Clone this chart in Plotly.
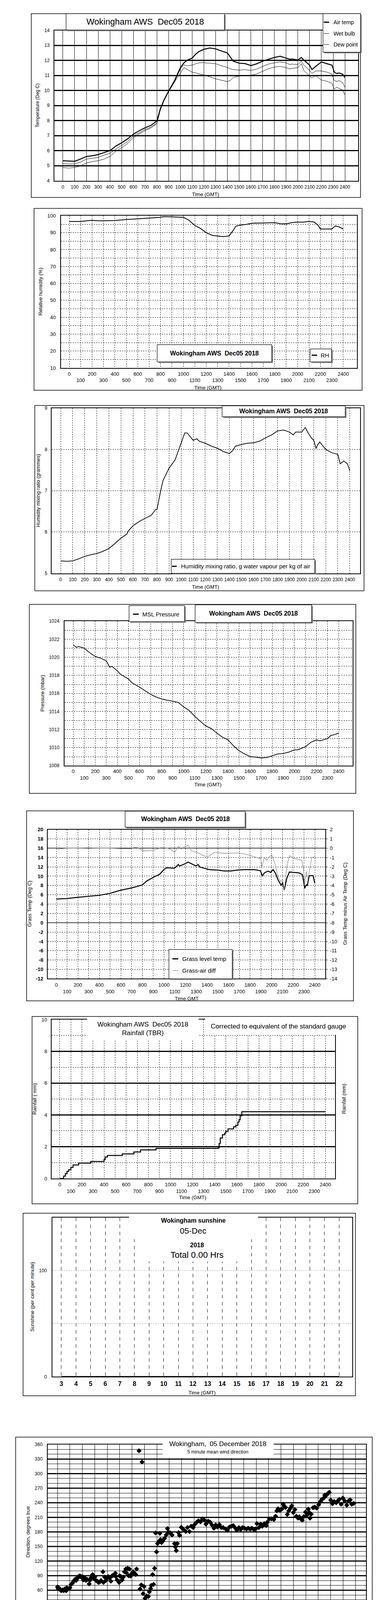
import plotly.graph_objects as go

W, H = 1000, 5000
FONT = "Liberation Sans, Arial, Helvetica, sans-serif"

# ---------------- DATA ----------------
# Panel 1: temperatures (time as HHMM-like number)
t_time = [0, 50, 100, 150, 200, 250, 300, 350, 400, 450,
          500, 550, 600, 650, 700, 750, 800, 830, 860, 900,
          950, 1000, 1030, 1060, 1100, 1130, 1160, 1200, 1230, 1250,
          1300, 1330, 1400, 1430, 1450, 1500, 1550, 1600, 1650, 1700,
          1750, 1800, 1850, 1900, 1930, 1950, 2000, 2030, 2050, 2100,
          2120, 2150, 2200, 2250, 2290, 2310, 2330, 2350, 2380, 2400]
air_temp = [5.33, 5.31, 5.29, 5.44, 5.61, 5.66, 5.74, 5.87, 6.0, 6.3,
            6.52, 6.78, 7.1, 7.33, 7.53, 7.68, 7.98, 8.8, 9.36, 9.97,
            10.66, 11.52, 11.84, 12.03, 12.16, 12.42, 12.6, 12.74, 12.79, 12.83,
            12.77, 12.68, 12.5, 12.16, 11.95, 11.82, 11.79, 11.66, 11.78, 11.95,
            12.08, 12.2, 12.28, 12.16, 12.08, 12.1, 12.03, 12.2, 12.03, 11.69,
            11.39, 11.6, 11.9, 11.78, 11.69, 11.22, 11.13, 11.17, 11.09, 10.87]
wet_bulb = [5.14, 5.11, 5.12, 5.24, 5.44, 5.5, 5.55, 5.7, 5.83, 6.1,
            6.34, 6.6, 6.97, 7.2, 7.42, 7.57, 7.85, 8.76, 9.34, 9.97,
            10.6, 11.43, 11.7, 11.65, 11.69, 11.78, 11.84, 11.86, 11.82, 11.82,
            11.78, 11.7, 11.53, 11.43, 11.39, 11.36, 11.39, 11.33, 11.43, 11.6,
            11.76, 11.84, 11.9, 11.84, 11.73, 11.76, 11.73, 11.95, 11.69, 11.34,
            11.13, 11.3, 11.3, 11.22, 11.09, 10.66, 10.61, 10.66, 10.53, 10.22]
dew_point = [4.88, 4.84, 4.88, 4.98, 5.18, 5.27, 5.33, 5.44, 5.61, 5.96,
             6.19, 6.47, 6.86, 7.12, 7.34, 7.51, 7.81, 8.72, 9.32, 9.92,
             10.57, 11.17, 11.52, 11.39, 11.22, 11.17, 11.1, 11.04, 10.96, 10.91,
             10.78, 10.72, 10.59, 10.7, 10.87, 10.96, 10.98, 11.02, 11.1, 11.28,
             11.45, 11.56, 11.6, 11.52, 11.43, 11.47, 11.52, 11.78, 11.34, 10.96,
             10.83, 11.0, 10.7, 10.61, 10.48, 10.09, 10.22, 10.14, 10.03, 9.71]

# Panel 2: relative humidity
rh_time = [0, 100, 150, 200, 250, 300, 400, 500, 600, 700,
           800, 830, 900, 1000, 1050, 1100, 1150, 1200, 1250, 1300,
           1350, 1400, 1430, 1460, 1500, 1550, 1600, 1700, 1800, 1850,
           1900, 1950, 2000, 2050, 2100, 2145, 2177, 2200, 2300, 2330,
           2360, 2400]
rh_pct = [96.6, 96.6, 97.0, 97.3, 97.0, 97.0, 97.2, 97.8, 98.2, 98.7,
          99.1, 99.5, 99.4, 99.1, 97.3, 94.2, 92.5, 90.0, 88.5, 88.0,
          87.7, 88.1, 90.8, 93.9, 94.5, 94.9, 95.6, 95.8, 95.9, 95.3,
          95.2, 96.0, 96.3, 96.2, 96.7, 96.3, 94.5, 92.2, 92.2, 94.0,
          93.5, 92.2]

# Panel 3: humidity mixing ratio
mr_time = [0, 50, 100, 150, 200, 250, 300, 350, 400, 450,
           500, 550, 560, 600, 650, 700, 750, 790, 800, 830,
           850, 900, 950, 980, 1000, 1030, 1050, 1100, 1130, 1150,
           1200, 1250, 1300, 1350, 1400, 1430, 1450, 1500, 1550, 1600,
           1650, 1700, 1750, 1800, 1850, 1900, 1930, 1950, 2000, 2030,
           2050, 2080, 2100, 2120, 2130, 2150, 2200, 2250, 2300, 2320,
           2350, 2380, 2400]
mix_ratio = [5.3, 5.29, 5.3, 5.35, 5.41, 5.45, 5.48, 5.53, 5.6, 5.72,
             5.85, 5.95, 6.02, 6.15, 6.25, 6.33, 6.4, 6.55, 6.55, 7.0,
             7.25, 7.55, 7.75, 8.0, 8.15, 8.4, 8.4, 8.22, 8.26, 8.2,
             8.15, 8.08, 8.03, 7.95, 7.9, 7.98, 8.08, 8.12, 8.15, 8.16,
             8.2, 8.28, 8.35, 8.45, 8.47, 8.42, 8.35, 8.42, 8.42, 8.53,
             8.42, 8.28, 8.22, 8.02, 8.1, 8.18, 8.0, 7.92, 7.88, 7.65,
             7.72, 7.65, 7.48]

# Panel 4: MSL pressure
p_time = [0, 30, 50, 100, 150, 200, 250, 300, 330, 350,
          400, 430, 500, 530, 600, 650, 700, 750, 800, 850,
          900, 950, 1000, 1050, 1100, 1150, 1200, 1250, 1300, 1350,
          1400, 1450, 1500, 1550, 1600, 1650, 1700, 1750, 1800, 1850,
          1900, 1950, 2000, 2030, 2100, 2150, 2200, 2230, 2300, 2330,
          2350, 2400]
msl_mbar = [1021.4, 1021.1, 1021.2, 1021.0, 1020.5, 1020.1, 1019.9, 1019.6, 1018.9, 1019.0,
            1018.5, 1018.1, 1017.6, 1017.2, 1016.7, 1016.3, 1015.9, 1015.6, 1015.4, 1015.25,
            1015.15, 1015.0, 1014.5, 1014.1, 1013.45, 1012.9, 1012.4, 1012.1, 1011.6, 1011.15,
            1010.85, 1010.2, 1009.65, 1009.3, 1009.0, 1008.95, 1008.85, 1008.9, 1009.1, 1009.3,
            1009.35, 1009.5, 1009.75, 1009.75, 1010.1, 1010.6, 1010.85, 1010.75, 1011.0, 1011.35,
            1011.4, 1011.6]

# Panel 5: grass temperature and grass-air difference
grass_time = [0, 100, 195, 299, 403, 496, 600, 704, 797, 843,
              913, 960, 994, 1024, 1060, 1098, 1133, 1144, 1170, 1190,
              1225, 1260, 1295, 1318, 1330, 1370, 1422, 1500, 1561, 1620,
              1677, 1740, 1793, 1839, 1886, 1897, 1913, 1932, 1967, 1990,
              2013, 2036, 2059, 2089, 2101, 2117, 2140, 2164, 2210, 2256,
              2286, 2307, 2321, 2330, 2349, 2384, 2400]
grass_temp = [5.1, 5.2, 5.45, 5.65, 5.9, 6.3, 7.0, 7.5, 8.1, 9.0,
              9.9, 10.4, 11.3, 11.8, 11.75, 11.7, 12.5, 12.2, 12.4, 12.6,
              13.0, 12.6, 12.2, 12.5, 12.0, 11.7, 11.4, 11.3, 11.1, 11.1,
              11.3, 11.4, 11.4, 11.4, 11.2, 11.1, 10.0, 10.7, 11.1, 10.8,
              11.4, 10.6, 9.2, 8.0, 8.6, 7.0, 9.5, 10.9, 10.8, 10.7,
              10.3, 7.4, 8.2, 7.9, 10.1, 10.1, 8.5]
diff_time = [0, 50, 100, 200, 300, 400, 500, 600, 700, 727,
             760, 808, 900, 970, 1000, 1052, 1098, 1133, 1160, 1190,
             1225, 1255, 1306, 1340, 1376, 1410, 1469, 1561, 1700, 1793,
             1886, 1897, 1909, 1932, 1955, 1978, 2001, 2025, 2059, 2082,
             2101, 2117, 2140, 2164, 2210, 2280, 2298, 2307, 2321, 2337,
             2372, 2390]
grass_air_diff = [-0.15, -0.05, 0.0, 0.0, 0.05, 0.0, 0.0, -0.05, -0.05, 0.1,
                  0.05, -0.3, -0.25, 0.05, 0.05, -0.05, -0.45, 0.2, -0.1, 0.15,
                  0.3, -0.3, -0.45, -0.65, -0.85, -0.9, -0.45, -0.55, -0.5, -0.75,
                  -1.1, -1.0, -2.0, -1.0, -1.3, -0.9, -0.75, -1.5, -3.0, -3.6,
                  -3.3, -4.5, -2.0, -0.8, -1.1, -1.3, -2.5, -3.8, -2.5, -3.4,
                  -1.0, -0.95]

# Panel 6: cumulative rainfall
rain_time = [0, 25, 35, 50, 65, 80, 100, 120, 170, 280,
             400, 410, 430, 565, 670, 730, 870, 1430, 1440, 1450,
             1470, 1490, 1500, 1520, 1570, 1590, 1610, 1620, 1630, 1645,
             2400]
rain_mm = [0, 0, 0.15, 0.3, 0.45, 0.55, 0.7, 0.85, 0.97, 1.07,
           1.2, 1.35, 1.45, 1.55, 1.67, 1.8, 1.9, 1.92, 2.2, 2.55,
           2.75, 2.85, 2.97, 3.12, 3.25, 3.35, 3.55, 3.7, 3.95, 4.2,
           4.2]

# Panel 7: sunshine
sun_hour = [3, 4, 5, 6, 7, 8, 9, 10, 11, 12, 13, 14, 15, 16, 17, 18, 19, 20, 21, 22]
sun_pct = [0, 0, 0, 0, 0, 0, 0, 0, 0, 0, 0, 0, 0, 0, 0, 0, 0, 0, 0, 0]

# Panel 8: wind direction (5 minute means)
dir_hour = [0.0, 0.05, 0.1, 0.2, 0.3, 0.4, 0.5, 0.6, 0.7, 0.75,
            0.85, 1.0, 1.1, 1.2, 1.3, 1.4, 1.45, 1.5, 1.6, 1.7,
            1.8, 1.9, 2.0, 2.1, 2.2, 2.3, 2.4, 2.55, 2.6, 2.7,
            2.83, 2.9, 3.0, 3.1, 3.2, 3.3, 3.4, 3.5, 3.66, 3.7,
            3.8, 3.9, 4.0, 4.1, 4.2, 4.3, 4.4, 4.5, 4.66, 4.7,
            4.8, 4.96, 5.0, 5.1, 5.2, 5.3, 5.4, 5.5, 5.55, 5.65,
            5.73, 5.8, 5.89, 5.95, 6.0, 6.1, 6.2, 6.3, 6.37, 6.5,
            6.57, 6.65, 6.75, 6.81, 6.9, 6.97, 7.05, 7.18, 7.32, 7.4,
            7.5, 7.56, 7.66, 7.74, 7.82, 7.9, 7.98, 8.06, 8.16, 8.24,
            8.3, 8.38, 8.48, 8.62, 8.76, 8.86, 8.94, 9.1, 9.23, 9.43,
            9.49, 9.57, 9.65, 9.75, 9.83, 9.97, 10.13, 10.33, 10.47, 10.63,
            10.77, 10.93, 11.04, 11.24, 11.36, 11.52, 11.68, 11.84, 11.96, 12.14,
            12.3, 12.44, 12.6, 12.74, 12.88, 13.04, 13.2, 13.35, 13.55, 13.69,
            13.85, 14.0, 14.15, 14.29, 14.45, 14.61, 14.75, 14.9, 15.06, 15.22,
            15.36, 15.52, 15.66, 15.82, 15.96, 16.06, 16.22, 16.36, 16.5, 16.66,
            16.82, 16.9, 17.07, 17.23, 17.43, 17.57, 17.67, 17.77, 17.91, 18.07,
            18.17, 18.27, 18.37, 18.51, 18.63, 18.77, 18.87, 19.0, 19.12, 19.24,
            19.38, 19.48, 19.6, 19.72, 19.84, 19.98, 20.12, 20.2, 20.28, 20.34,
            20.44, 20.58, 20.72, 20.88, 21.04, 21.19, 21.29, 21.45, 21.53, 21.65,
            21.77, 21.89, 22.01, 22.15, 22.29, 22.45, 22.59, 22.69, 22.85, 22.99,
            23.14, 23.3, 23.45, 23.58, 23.7, 23.86]
dir_deg = [66.8, 63, 65, 61.5, 59, 60.7, 59, 63, 59, 65,
           63, 65, 72, 74.5, 78.6, 81, 83, 80, 84, 88,
           89.7, 87, 88, 81, 85.5, 80, 82, 73, 80, 85.5,
           92.4, 84, 87, 80, 78.6, 76, 77, 80, 98, 76,
           87, 80, 84, 88, 85, 78.6, 89.7, 91, 95, 88,
           81, 76, 89.7, 88, 81, 87, 98, 103.5, 96, 105,
           89.7, 103.5, 89, 92.4, 95, 98, 95, 92.4, 103.5, 26,
           347, 62.6, 71, 324, 53, 67.6, 43.3, 48, 47, 56.6,
           63.5, 70, 92.4, 72, 105, 178, 139, 156, 160, 177,
           164, 158, 161, 167, 174, 187, 180, 178, 173.5, 156,
           149, 141.5, 156, 178.5, 173, 189.5, 185.7, 180.7, 189, 180.7,
           191.7, 189, 195, 200.6, 203, 200.6, 207, 204, 196, 202,
           200, 194.5, 187.6, 194.5, 190, 195, 189, 189, 186, 183.5,
           190, 191.7, 193, 189, 183.5, 189, 185, 189, 187.6, 186,
           187.6, 186, 187.6, 185, 186, 197, 189, 196, 191.7, 197,
           193, 200, 207, 207, 205.5, 212.4, 223.5, 227.6, 224.3, 227,
           237, 233, 230.4, 216, 223.5, 229, 233.7, 220, 226, 212.4,
           208.3, 211, 207, 204, 211.6, 220.7, 215, 227, 220, 208.3,
           216.6, 229.8, 231, 229, 236, 242.8, 247, 249.7, 255.8, 255.2,
           259, 261.6, 245.6, 238, 242.8, 240, 244, 247, 237, 249.7,
           244, 235, 244, 246, 237, 238.6]

# Panel 9: wind speed
mean_kt = [4.5, 4.0, 4.2, 4.0, 3.9, 4.0, 5.0, 5.8, 5.5, 5.0,
           5.0, 5.3, 5.3, 5.5, 5.5, 7.0, 6.0, 5.3, 4.2, 5.2,
           5.5, 5.0, 5.0, 4.5, 4.5, 4.5, 4.0, 4.4, 3.8, 3.8,
           3.5, 4.0, 3.3, 1.5, 1.2, 1.0, 1.5, 1.2, 1.3, 1.5,
           1.5, 2.8, 3.8, 4.2, 4.5, 4.0, 4.5, 5.0, 4.5, 4.2,
           4.5, 5.0, 5.5, 6.0, 7.0, 7.3, 7.5, 7.0, 8.0, 7.5,
           8.0, 7.2, 7.5, 5.8, 7.0, 7.5, 7.0, 8.0, 7.0, 6.5,
           8.0, 9.0, 8.0, 8.5, 6.5, 8.0, 8.5, 7.5, 8.5, 7.5,
           6.5, 7.0, 6.8, 7.5, 8.0, 7.0, 7.5, 7.0, 7.0, 6.0,
           6.5, 6.5, 6.0, 6.0, 5.5, 4.5, 4.0, 5.0, 5.5, 5.5,
           5.5, 6.0, 5.5, 6.0, 5.5, 6.5, 5.0, 7.0, 8.0, 9.5,
           8.0, 7.5, 7.0, 6.0, 4.5, 4.5, 5.0, 4.5, 5.0, 6.5,
           7.3]
mean_hour = [i * 0.2 for i in range(len(mean_kt))]
gust_kt = [6.0, 8.5, 5.5, 7.5, 9.0, 6.0, 7.0, 5.0, 8.0, 6.5, 9.5, 5.5,      # 00h
           6.5, 9.0, 7.0, 10.5, 6.0, 9.5, 8.0, 11.0, 6.5, 9.0, 7.5, 10.0,   # 01h
           6.0, 9.5, 7.0, 10.0, 6.5, 8.5, 7.5, 10.5, 6.0, 9.0, 8.0, 11.0,   # 02h
           8.0, 11.5, 9.0, 10.5, 7.0, 9.5, 6.0, 8.5, 5.0, 9.0, 7.0, 10.5,   # 03h
           7.5, 11.5, 6.5, 9.0, 7.0, 10.0, 6.0, 8.5, 5.5, 9.5, 6.5, 8.0,    # 04h
           5.5, 8.5, 6.0, 7.5, 4.5, 8.0, 5.0, 7.0, 4.0, 6.5, 5.5, 8.5,      # 05h
           4.5, 7.5, 4.0, 6.0, 5.5, 8.0, 3.5, 5.0, 2.0, 4.0, 1.0, 3.0,      # 06h
           1.5, 3.5, 1.0, 2.5, 3.0, 1.5, 4.0, 2.0, 3.5, 1.5, 3.0, 2.0,      # 07h
           2.0, 4.5, 3.0, 5.5, 3.5, 6.0, 4.5, 7.0, 4.0, 6.5, 5.0, 8.0,      # 08h
           4.5, 7.5, 5.5, 9.0, 5.0, 8.0, 6.0, 9.5, 5.0, 7.5, 4.5, 8.5,      # 09h
           5.5, 9.0, 7.0, 10.5, 6.5, 11.0, 8.0, 12.5, 7.0, 11.0, 8.5, 13.5, # 10h
           9.0, 15.0, 8.5, 12.0, 10.0, 14.0, 8.0, 11.5, 9.5, 15.5, 9.0, 13.0,  # 11h
           10.0, 13.5, 8.5, 12.0, 7.0, 11.0, 7.5, 10.5, 9.0, 13.5, 8.0, 14.0,  # 12h
           9.0, 13.5, 8.0, 12.5, 9.5, 14.5, 8.5, 12.0, 10.0, 15.5, 9.0, 14.0,  # 13h
           10.5, 16.5, 9.5, 14.0, 11.0, 17.0, 9.0, 15.0, 10.0, 14.5, 8.5, 13.0, # 14h
           9.0, 14.5, 10.0, 13.5, 8.5, 12.5, 10.5, 14.0, 9.0, 12.0, 8.0, 13.0,  # 15h
           7.5, 11.5, 8.5, 13.5, 9.0, 12.0, 8.0, 14.0, 9.5, 13.0, 8.0, 12.5,   # 16h
           8.0, 12.5, 7.5, 11.0, 8.5, 12.0, 7.0, 10.5, 8.0, 11.5, 7.5, 12.0,   # 17h
           7.0, 10.5, 6.5, 9.5, 7.5, 10.0, 6.0, 9.0, 7.0, 9.5, 6.0, 8.5,       # 18h
           5.0, 8.5, 4.5, 7.0, 5.5, 9.0, 6.0, 8.0, 5.5, 9.5, 6.5, 8.5,         # 19h
           6.5, 10.0, 7.0, 9.0, 6.0, 9.5, 7.5, 10.5, 6.5, 9.0, 7.0, 10.0,      # 20h
           7.0, 11.0, 6.5, 10.0, 8.0, 12.5, 9.0, 14.5, 10.5, 17.0, 11.0, 13.5, # 21h
           10.0, 12.5, 9.0, 11.5, 8.5, 11.0, 7.0, 10.0, 7.5, 9.5, 6.0, 8.5,    # 22h
           5.0, 8.0, 4.5, 7.5, 5.5, 8.5, 6.0, 9.0, 6.5, 9.5, 7.5, 10.5,        # 23h
           9.5]
gust_hour = [i / 12 for i in range(len(gust_kt))]
low_hour = [0.18, 0.6, 0.65, 0.7, 0.75, 0.8, 0.85, 0.9, 0.95, 1.0,
            0.85, 0.75, 1.05, 3.71, 3.71, 5.41, 5.45, 5.47, 5.52, 5.55,
            5.6, 5.62, 5.9, 5.95, 6.0, 6.0, 6.05, 6.07, 6.1, 6.15,
            6.2, 6.15, 6.22, 6.25, 6.3, 6.3, 6.35, 6.37, 6.4, 6.45,
            6.45, 6.5, 6.5, 6.53, 6.53, 6.55, 6.6, 6.7, 6.75, 6.8,
            6.78, 6.6, 6.65, 6.68, 6.7, 6.7, 6.72, 6.7, 6.8, 6.85,
            6.85, 6.9, 6.95, 6.95, 6.9, 7.0, 7.05, 7.1, 7.15, 7.2,
            7.2, 7.25, 7.3, 7.3, 7.35, 7.4, 7.4, 7.45, 7.5, 7.5,
            7.55, 7.6, 7.65, 7.7, 7.7, 7.75, 7.8, 7.85, 7.9, 7.95,
            8.0, 7.98, 8.02, 8.05, 8.05, 8.07, 8.1, 8.12, 8.15, 8.17,
            8.2, 8.2, 8.25, 8.3, 8.3, 8.35, 8.38, 8.4, 8.45, 8.93,
            8.97, 9.02, 9.07, 19.3, 19.35, 19.38]
low_x10 = [38.7, 39.8, 39.5, 39.0, 38.0, 37.5, 37.2, 39.8, 38.5, 38.0,
           39.0, 40.0, 39.8, 38.2, 37.6, 39.5, 38.5, 37.5, 36.8, 39.0,
           38.0, 37.0, 39.0, 38.3, 37.5, 33.0, 31.5, 32.5, 35.5, 36.0,
           35.0, 34.0, 33.5, 36.8, 36.0, 35.0, 34.0, 33.0, 32.0, 31.5,
           30.5, 29.0, 30.0, 31.0, 26.2, 25.0, 22.0, 21.3, 23.5, 22.5,
           23.0, 16.0, 12.2, 11.5, 10.5, 9.5, 8.5, 7.9, 12.0, 18.5,
           15.5, 13.0, 11.0, 9.0, 8.2, 12.0, 11.5, 14.5, 17.5, 19.2,
           15.0, 12.5, 16.8, 14.0, 11.0, 9.8, 13.0, 15.0, 17.5, 16.2,
           14.5, 13.5, 15.5, 17.0, 14.0, 12.5, 14.5, 16.0, 15.0, 14.2,
           12.8, 19.5, 16.0, 22.8, 23.8, 25.0, 26.5, 28.5, 29.5, 30.5,
           29.0, 31.0, 32.0, 30.5, 32.5, 34.0, 35.5, 36.5, 37.2, 38.2,
           39.0, 39.5, 39.8, 38.7, 39.2, 39.8]

# tick labels
hhmm_ticks = list(range(0, 2401, 100))
hour_ticks = list(range(0, 25))
clock_labels = ["%02d:00" % h for h in range(0, 24)]

# ---------------- HELPERS ----------------
shapes, annotations, layout = [], [], {}


def fx(x):
    return x / W


def fy(y):
    return 1 - y / H


def rect(x0, y0, x1, y1, fill="white", line="black", lw=1.0):
    shapes.append(dict(type="rect", xref="paper", yref="paper",
                       x0=fx(x0), x1=fx(x1), y0=fy(y1), y1=fy(y0),
                       fillcolor=fill, line=dict(color=line, width=lw), layer="above"))


def frame(x0, y0, x1, y1):
    rect(x0, y0, x1, y1, fill="rgba(0,0,0,0)", lw=1.5)


def box(x0, y0, x1, y1, shadow=True):
    if shadow:
        rect(x0 + 3, y0 + 3, x1 + 3, y1 + 3, fill="#808080", line="#808080", lw=0)
    rect(x0, y0, x1, y1, lw=1.2)


def white(x0, y0, x1, y1):
    rect(x0, y0, x1, y1, fill="white", line="white", lw=0)


def pline(x0, x1, y, lw=1.0, color="black"):
    shapes.append(dict(type="line", xref="paper", yref="paper",
                       x0=fx(x0), x1=fx(x1), y0=fy(y), y1=fy(y),
                       line=dict(color=color, width=lw), layer="above"))


def txt(x, y, s, size=13, bold=False, anchor="center", angle=0, color="black"):
    if bold:
        s = "<b>%s</b>" % s
    annotations.append(dict(xref="paper", yref="paper", x=fx(x), y=fy(y), text=s,
                            showarrow=False, xanchor=anchor, yanchor="middle",
                            textangle=angle, font=dict(size=size, color=color, family=FONT)))


def grid_hline(i, yv, lw):
    sfx = "" if i == 1 else str(i)
    shapes.append(dict(type="line", xref="x%s domain" % sfx, yref="y%s" % sfx,
                       x0=0, x1=1, y0=yv, y1=yv, line=dict(color="black", width=lw), layer="below"))


def grid(style="dot", width=1, color="black"):
    return dict(showgrid=True, gridcolor=color, gridwidth=width, griddash=style)


def setup(i, dom, xr, yr, xtv, xtt, ytv, ytt, xg, yg, xfs=12, yfs=12, xso=3, yso=7):
    sfx = "" if i == 1 else str(i)
    xa = dict(domain=[fx(dom[0]), fx(dom[1])], anchor="y" + sfx, range=xr, autorange=False,
              tickmode="array", tickvals=xtv, ticktext=xtt, tickangle=0,
              showline=True, mirror=True, linecolor="black", linewidth=1.5, ticks="",
              tickfont=dict(size=xfs, family=FONT, color="black"), ticklabelstandoff=xso,
              zeroline=False, fixedrange=True)
    xa.update(xg)
    ya = dict(domain=[fy(dom[3]), fy(dom[2])], anchor="x" + sfx, range=yr, autorange=False,
              tickmode="array", tickvals=ytv, ticktext=ytt,
              showline=True, mirror=True, linecolor="black", linewidth=1.5, ticks="",
              tickfont=dict(size=yfs, family=FONT, color="black"), ticklabelstandoff=yso,
              zeroline=False, fixedrange=True)
    ya.update(yg)
    layout["xaxis" + sfx] = xa
    layout["yaxis" + sfx] = ya


def two_row(vals, unit=100):
    return [str(v) if (v // unit) % 2 == 0 else "<br>" + str(v) for v in vals]


traces = []


def line(i, x, y, color="black", width=1.5, shape="linear", yaxis=None):
    sfx = "" if i == 1 else str(i)
    traces.append(go.Scatter(x=x, y=y, mode="lines", xaxis="x" + sfx, yaxis=yaxis or ("y" + sfx),
                             line=dict(color=color, width=width, shape=shape),
                             showlegend=False, hoverinfo="skip"))


# ---------------- PANEL 1: temperature ----------------
setup(1, (139, 916, 71, 457), [-73, 2513], [4, 14],
      hhmm_ticks, [str(v) for v in hhmm_ticks],
      list(range(4, 15)), [str(v) for v in range(4, 15)],
      grid("solid", 1), grid("solid", 3), xfs=12, yfs=12, xso=4, yso=8)
line(1, t_time, dew_point, width=1)
line(1, t_time, wet_bulb, width=1)
line(1, t_time, air_temp, width=2.5)
frame(80, 28, 922, 500)
box(169, 28, 574, 70)
txt(371, 49, "Wokingham AWS  Dec05 2018", size=22)
box(826, 28, 922, 127)
pline(828, 842, 50, 3)
pline(828, 842, 79, 1)
pline(828, 842, 107, 1)
txt(851, 50, "Air temp", 14, anchor="left")
txt(851, 79, "Wet bulb", 14, anchor="left")
txt(851, 107, "Dew point", 14, anchor="left")
txt(96, 264, "Temperature (Deg C)", 12, angle=-90)
txt(526, 492, "Time (GMT)", 13)

# ---------------- PANEL 2: RH ----------------
setup(2, (156, 913, 547, 938), [-72, 2520], [10, 100],
      hhmm_ticks, two_row(hhmm_ticks),
      list(range(10, 101, 5)), [str(v) if v % 10 == 0 else "" for v in range(10, 101, 5)],
      grid("dot", 1), grid("dot", 1), xfs=13, yfs=13, xso=2, yso=9)
line(2, rh_time, rh_pct, width=2)
frame(87, 528, 926, 995)
box(402, 878, 695, 922)
txt(548, 900, "Wokingham AWS  Dec05 2018", 16, bold=True)
box(793, 889, 848, 922)
pline(797, 811, 905, 3)
txt(818, 905, "RH", 15, anchor="left")
txt(104, 742, "Relative humidity (%)", 13, angle=-90)
txt(532, 988, "Time (GMT)", 13)

# ---------------- PANEL 3: mixing ratio ----------------
setup(3, (132, 921, 1041, 1465), [-75, 2485], [5, 9],
      hhmm_ticks, [str(v) for v in hhmm_ticks],
      [5, 6, 7, 8, 9], ["5", "6", "7", "8", "9"],
      grid("dot", 1), grid("dot", 1), xfs=12, yfs=12, xso=4, yso=7)
line(3, mr_time, mix_ratio, width=1.8)
frame(89, 1034, 931, 1510)
box(568, 1035, 883, 1063)
txt(725, 1049, "Wokingham AWS  Dec05 2018", 16, bold=True)
box(438, 1429, 805, 1465)
pline(440, 452, 1447, 3)
txt(461, 1447, "Humidity mixing ratio, g water vapour per kg of air", 15, anchor="left")
txt(97, 1253, "Humidity mixing ratio (grammes)", 13, angle=-90)
txt(526, 1500, "Time (GMT)", 13)

# ---------------- PANEL 4: pressure ----------------
setup(4, (165, 902, 1588, 1959), [-78, 2527], [1008, 1024],
      hhmm_ticks, two_row(hhmm_ticks),
      list(range(1008, 1025)), [str(v) if v % 2 == 0 else "" for v in range(1008, 1025)],
      grid("dot", 1), grid("dot", 1), xfs=13, yfs=12, xso=2, yso=9)
line(4, p_time, msl_mbar, width=1.8)
frame(75, 1545, 910, 2030)
box(330, 1548, 472, 1589)
pline(340, 355, 1570, 3)
txt(362, 1570, "MSL Pressure", 15, anchor="left")
box(499, 1546, 797, 1591)
txt(648, 1568, "Wokingham AWS  Dec05 2018", 16, bold=True)
txt(109, 1773, "Pressure (mbar)", 13, angle=-90)
txt(532, 2008, "Time (GMT)", 13)

# ---------------- PANEL 5: grass temperature ----------------
setup(5, (122, 832, 2123, 2506), [-80, 2498], [-12, 20],
      hhmm_ticks, two_row(hhmm_ticks),
      list(range(-12, 21, 2)), ["<b>%d</b>" % v for v in range(-12, 21, 2)],
      grid("dot", 1), grid("dot", 1), xfs=13, yfs=13, xso=3, yso=7)
layout["yaxis10"] = dict(domain=layout["yaxis5"]["domain"], anchor="x5", overlaying="y5", side="right",
                         range=[-14, 2], autorange=False, tickmode="array",
                         tickvals=list(range(-14, 3)), ticktext=[str(v) for v in range(-14, 3)],
                         showgrid=False, zeroline=False, showline=False, ticks="outside", ticklen=5,
                         tickcolor="black", tickfont=dict(size=13, family=FONT, color="black"),
                         ticklabelstandoff=3, fixedrange=True)
grid_hline(5, 16, 1.5)
grid_hline(5, 0, 1.5)
line(5, diff_time, grass_air_diff, color="#8a8a8a", width=1.3, yaxis="y10")
line(5, grass_time, grass_temp, width=2.5)
frame(68, 2075, 904, 2563)
box(320, 2076, 627, 2117)
txt(474, 2096, "Wokingham AWS  Dec05 2018", 16, bold=True)
box(432, 2431, 594, 2506)
pline(441, 456, 2455, 3)
pline(441, 456, 2485, 1.3, "#8a8a8a")
txt(464, 2455, "Grass level temp", 15, anchor="left")
txt(464, 2485, "Grass-air diff", 15, anchor="left")
txt(75, 2314, "Grass Temp (Deg C)", 13, angle=-90)
txt(882, 2314, "Grass Temp minus Air Temp (Deg C)", 13, angle=-90)
txt(477, 2557, "Time GMT", 13)

# ---------------- PANEL 6: rainfall ----------------
setup(6, (132, 857, 2611, 3019), [-74, 2488], [0, 10],
      hhmm_ticks, two_row(hhmm_ticks),
      list(range(0, 11)), [str(v) if v % 2 == 0 else "" for v in range(0, 11)],
      grid("dot", 1), grid("dot", 1), xfs=13, yfs=13, xso=3, yso=7)
for yv in (2, 4, 6, 8):
    grid_hline(6, yv, 3)
line(6, rain_time, rain_mm, width=2.5, shape="hv")
frame(82, 2603, 915, 3084)
white(223, 2608, 508, 2665)
white(525, 2605, 912, 2650)
txt(365, 2623, "Wokingham AWS  Dec05 2018", 17)
txt(365, 2645, "Rainfall (TBR)", 17)
txt(537, 2628, "Corrected to equivalent of the standard gauge", 17, anchor="left")
txt(89, 2815, "Rainfall ( mm)", 13, angle=-90)
txt(880, 2815, "Rainfall (mm)", 13, angle=-90)
txt(493, 3068, "Time (GMT)", 13)

# ---------------- PANEL 7: sunshine ----------------
setup(7, (134, 901, 3119, 3528), [2.385, 22.9], [0, 150],
      sun_hour, ["<b>%d</b>" % h for h in sun_hour],
      [0, 50, 100], ["0", "", "100"],
      grid("dash", 1), grid("dot", 1, "#9a9a9a"), xfs=16, yfs=12, xso=3, yso=10)
line(7, sun_hour, sun_pct, width=3.5)
frame(59, 3108, 909, 3577)
white(330, 3116, 660, 3175)
white(344, 3175, 642, 3232)
txt(494, 3127, "Wokingham sunshine", 16, bold=True)
txt(494, 3153, "05-Dec", 21)
txt(504, 3190, "2018", 16, bold=True)
txt(504, 3215, "Total 0.00 Hrs", 22)
txt(82, 3323, "Sunshine (per cent per minute)", 13, angle=-90)
txt(517, 3569, "Time (GMT)", 13)

# ---------------- PANEL 8: wind direction ----------------
setup(8, (122, 936, 3702, 4151), [-0.79, 24.85], [0, 360],
      hour_ticks, [str(h) for h in hour_ticks],
      list(range(0, 361, 10)), [str(v) if v % 30 == 0 else "" for v in range(0, 361, 10)],
      grid("solid", 1), grid("solid", 1), xfs=12, yfs=12, xso=7, yso=9)
for yv in range(30, 360, 30):
    grid_hline(8, yv, 3)
traces.append(go.Scatter(x=dir_hour, y=dir_deg, mode="markers", xaxis="x8", yaxis="y8",
                         marker=dict(symbol="diamond", size=10, color="black",
                                     line=dict(color="black", width=0)),
                         showlegend=False, hoverinfo="skip"))
frame(40, 3683, 952, 4199)
white(416, 3694, 700, 3737)
txt(557, 3701, "Wokingham,  05 December 2018", 17)
txt(557, 3721, "5 minute mean wind direction", 12)
txt(71, 3926, "Direction, degrees true", 13, angle=-90)
txt(528, 4190, "Time (GMT)", 13)

# ---------------- PANEL 9: wind speed ----------------
setup(9, (94, 942, 4264, 4644), [-0.7, 25.3], [0, 50],
      list(range(0, 24)), [c if h % 2 == 0 else "<br>" + c for h, c in enumerate(clock_labels)],
      list(range(0, 51, 5)), [str(v) if v % 10 == 0 else "" for v in range(0, 51, 5)],
      grid("dot", 1), grid("dot", 1), xfs=12, yfs=12, xso=3, yso=10)
line(9, gust_hour, gust_kt, color="#505050", width=1)
line(9, mean_hour, mean_kt, color="black", width=2)
traces.append(go.Scatter(x=low_hour, y=low_x10, mode="markers", xaxis="x9", yaxis="y9",
                         marker=dict(symbol="diamond", size=10, color="#c8c8c8",
                                     line=dict(color="#404040", width=1)),
                         showlegend=False, hoverinfo="skip"))
frame(35, 4226, 947, 4716)
txt(263, 4243, "Wokingham,  05 December 2018", 17, bold=True)
txt(570, 4234, "Wind speed, 10 min mean / max gust", 13)
txt(570, 4251, "Speeds below 4 kt shown at x10 scale", 13)
box(724, 4230, 942, 4254)
pline(754, 765, 4241, 2.5)
txt(774, 4241, "Speed x 1", 10, anchor="left")
cx, cy = 846, 4241
shapes.append(dict(type="path", xref="paper", yref="paper",
                   path="M %f %f L %f %f L %f %f L %f %f Z" % (fx(cx - 4), fy(cy), fx(cx), fy(cy - 5),
                                                               fx(cx + 4), fy(cy), fx(cx), fy(cy + 5)),
                   fillcolor="#c8c8c8", line=dict(color="#404040", width=1), layer="above"))
txt(858, 4241, "Speed / 10", 10, anchor="left")
txt(48, 4454, "Speed (knots)", 13, angle=-90)
txt(517, 4694, "Time (GMT)", 13)

# ---------------- FIGURE ----------------
fig = go.Figure(data=traces)
fig.update_layout(width=W, height=H, margin=dict(l=0, r=0, t=0, b=0),
                  paper_bgcolor="white", plot_bgcolor="white", showlegend=False,
                  font=dict(family=FONT, color="black"),
                  shapes=shapes, annotations=annotations, **layout)
fig.write_html("out.html", config={"displayModeBar": False},
               post_script="document.body.style.margin='0px';")
